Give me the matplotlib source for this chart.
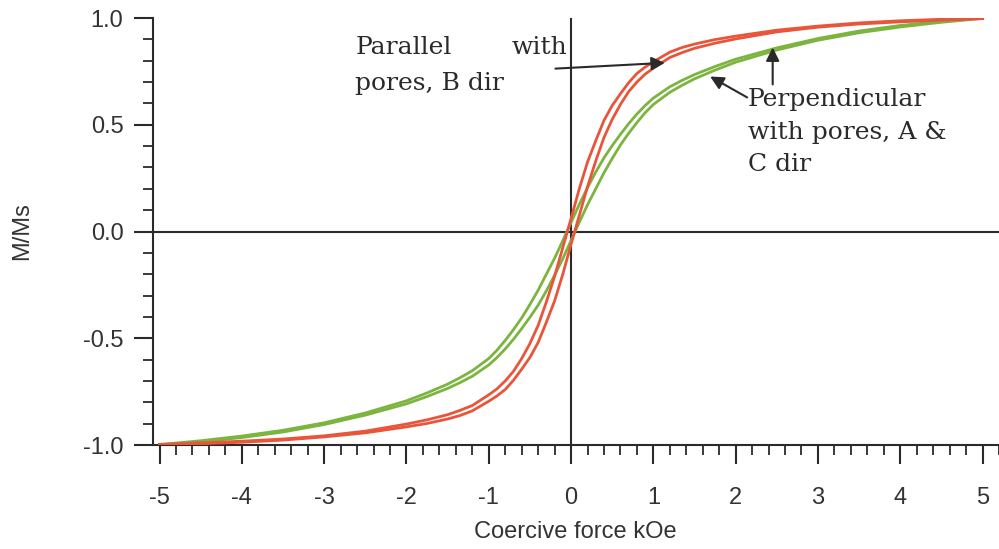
import numpy as np
import matplotlib
matplotlib.use('Agg')
import matplotlib.pyplot as plt
from matplotlib.ticker import MultipleLocator

# field values (kOe)
field = [-5, -4.5, -4, -3.5, -3, -2.5, -2, -1.75, -1.5, -1.35, -1.2, -1, -0.9, -0.8, -0.7, -0.6,
         -0.5, -0.4, -0.3, -0.2, -0.1, 0, 0.1, 0.2, 0.3, 0.4, 0.5, 0.6, 0.7, 0.8, 0.9, 1, 1.2,
         1.35, 1.5, 1.75, 2, 2.5, 3, 3.5, 4, 4.5, 5]

# parallel with pores, B dir (red loop)
par_down = [-0.997, -0.99, -0.982, -0.972, -0.957, -0.935, -0.902, -0.882, -0.858, -0.838,
            -0.815, -0.765, -0.737, -0.70, -0.655, -0.595, -0.525, -0.44, -0.33, -0.21, -0.075,
            0.06, 0.20, 0.325, 0.425, 0.52, 0.59, 0.645, 0.697, 0.74, 0.77, 0.795, 0.84,
            0.862, 0.878, 0.899, 0.915, 0.943, 0.962, 0.977, 0.987, 0.994, 1.0]
par_up = [-1.0, -0.994, -0.987, -0.977, -0.962, -0.943, -0.915, -0.899, -0.878, -0.862,
          -0.84, -0.795, -0.77, -0.74, -0.697, -0.645, -0.59, -0.52, -0.425, -0.325, -0.20,
          -0.06, 0.075, 0.21, 0.33, 0.44, 0.525, 0.595, 0.655, 0.70, 0.737, 0.765, 0.815,
          0.838, 0.858, 0.882, 0.902, 0.935, 0.957, 0.972, 0.982, 0.99, 0.997]

# perpendicular with pores, A & C dir (green loop)
perp_down = [-0.998, -0.98, -0.958, -0.931, -0.896, -0.85, -0.793, -0.756, -0.715, -0.685,
             -0.652, -0.595, -0.556, -0.51, -0.46, -0.405, -0.342, -0.275, -0.20, -0.125, -0.043,
             0.042, 0.127, 0.205, 0.278, 0.345, 0.402, 0.455, 0.505, 0.55, 0.59, 0.625, 0.678,
             0.708, 0.735, 0.773, 0.807, 0.86, 0.904, 0.939, 0.965, 0.985, 1.0]
perp_up = [-1.0, -0.985, -0.965, -0.939, -0.904, -0.86, -0.807, -0.773, -0.735, -0.708,
           -0.678, -0.625, -0.59, -0.55, -0.505, -0.455, -0.402, -0.345, -0.278, -0.205, -0.127,
           -0.042, 0.043, 0.125, 0.20, 0.275, 0.342, 0.405, 0.46, 0.51, 0.556, 0.595, 0.652,
           0.685, 0.715, 0.756, 0.793, 0.85, 0.896, 0.931, 0.958, 0.98, 0.998]

red = '#e9553b'
green = '#7bb43f'
dark = '#2a2a2a'

plt.rcParams['font.family'] = ['Liberation Sans', 'DejaVu Sans']

fig = plt.figure(figsize=(9.99, 5.49), dpi=100)
ax = fig.add_axes([0.1527, 0.1894, 0.8473, 0.7778])

ax.axhline(0, color=dark, lw=1.5, zorder=1)
ax.axvline(0, color=dark, lw=1.5, zorder=1)

ax.plot(field, perp_down, color=green, lw=2, zorder=2)
ax.plot(field, perp_up, color=green, lw=2, zorder=2)
ax.plot(field, par_down, color=red, lw=2, zorder=3)
ax.plot(field, par_up, color=red, lw=2, zorder=3)

ax.set_xlim(-5.085, 5.2)
ax.set_ylim(-1.0, 1.0)

for s in ['top', 'right']:
    ax.spines[s].set_visible(False)
for s in ['left', 'bottom']:
    ax.spines[s].set_linewidth(1.5)
    ax.spines[s].set_color(dark)

ax.xaxis.set_minor_locator(MultipleLocator(0.2))
ax.yaxis.set_minor_locator(MultipleLocator(0.1))
ax.set_yticks([-1, -0.5, 0, 0.5, 1])
ax.set_yticklabels(['-1.0', '-0.5', '0.0', '0.5', '1.0'])
ax.set_xticks(range(-5, 6))
ax.set_xticklabels([str(v) for v in range(-5, 6)])

ax.tick_params(which='major', length=14, width=1.5, color=dark, labelsize=17,
               labelcolor='#333333', direction='out')
ax.tick_params(which='minor', length=7.5, width=1.3, color=dark, direction='out')
ax.tick_params(axis='x', which='major', pad=16)
ax.tick_params(axis='y', which='major', pad=7)

ax.set_xlabel('Coercive force kOe', fontsize=17, color='#333333', labelpad=9)
ax.set_ylabel('M/Ms', fontsize=17, color='#333333', labelpad=36)

serif = 'DejaVu Serif'
tfs = 18
ax.text(-2.62, 0.862, 'Parallel', family=serif, fontsize=tfs, color=dark, va='center', ha='left')
ax.text(-0.05, 0.862, 'with', family=serif, fontsize=tfs, color=dark, va='center', ha='right')
ax.text(-2.62, 0.693, 'pores, B dir', family=serif, fontsize=tfs, color=dark, va='center', ha='left')
ax.text(2.15, 0.618, 'Perpendicular', family=serif, fontsize=tfs, color=dark, va='center', ha='left')
ax.text(2.15, 0.464, 'with pores, A &', family=serif, fontsize=tfs, color=dark, va='center', ha='left')
ax.text(2.15, 0.314, 'C dir', family=serif, fontsize=tfs, color=dark, va='center', ha='left')

arrow = dict(arrowstyle='-|>', color=dark, lw=1.5, mutation_scale=20, shrinkA=0, shrinkB=0)
ax.annotate('', xy=(1.14, 0.79), xytext=(-0.19, 0.763), arrowprops=arrow)
ax.annotate('', xy=(1.69, 0.726), xytext=(2.14, 0.628), arrowprops=arrow)
ax.annotate('', xy=(2.45, 0.862), xytext=(2.45, 0.689), arrowprops=arrow)

fig.savefig('out.png', dpi=100)
